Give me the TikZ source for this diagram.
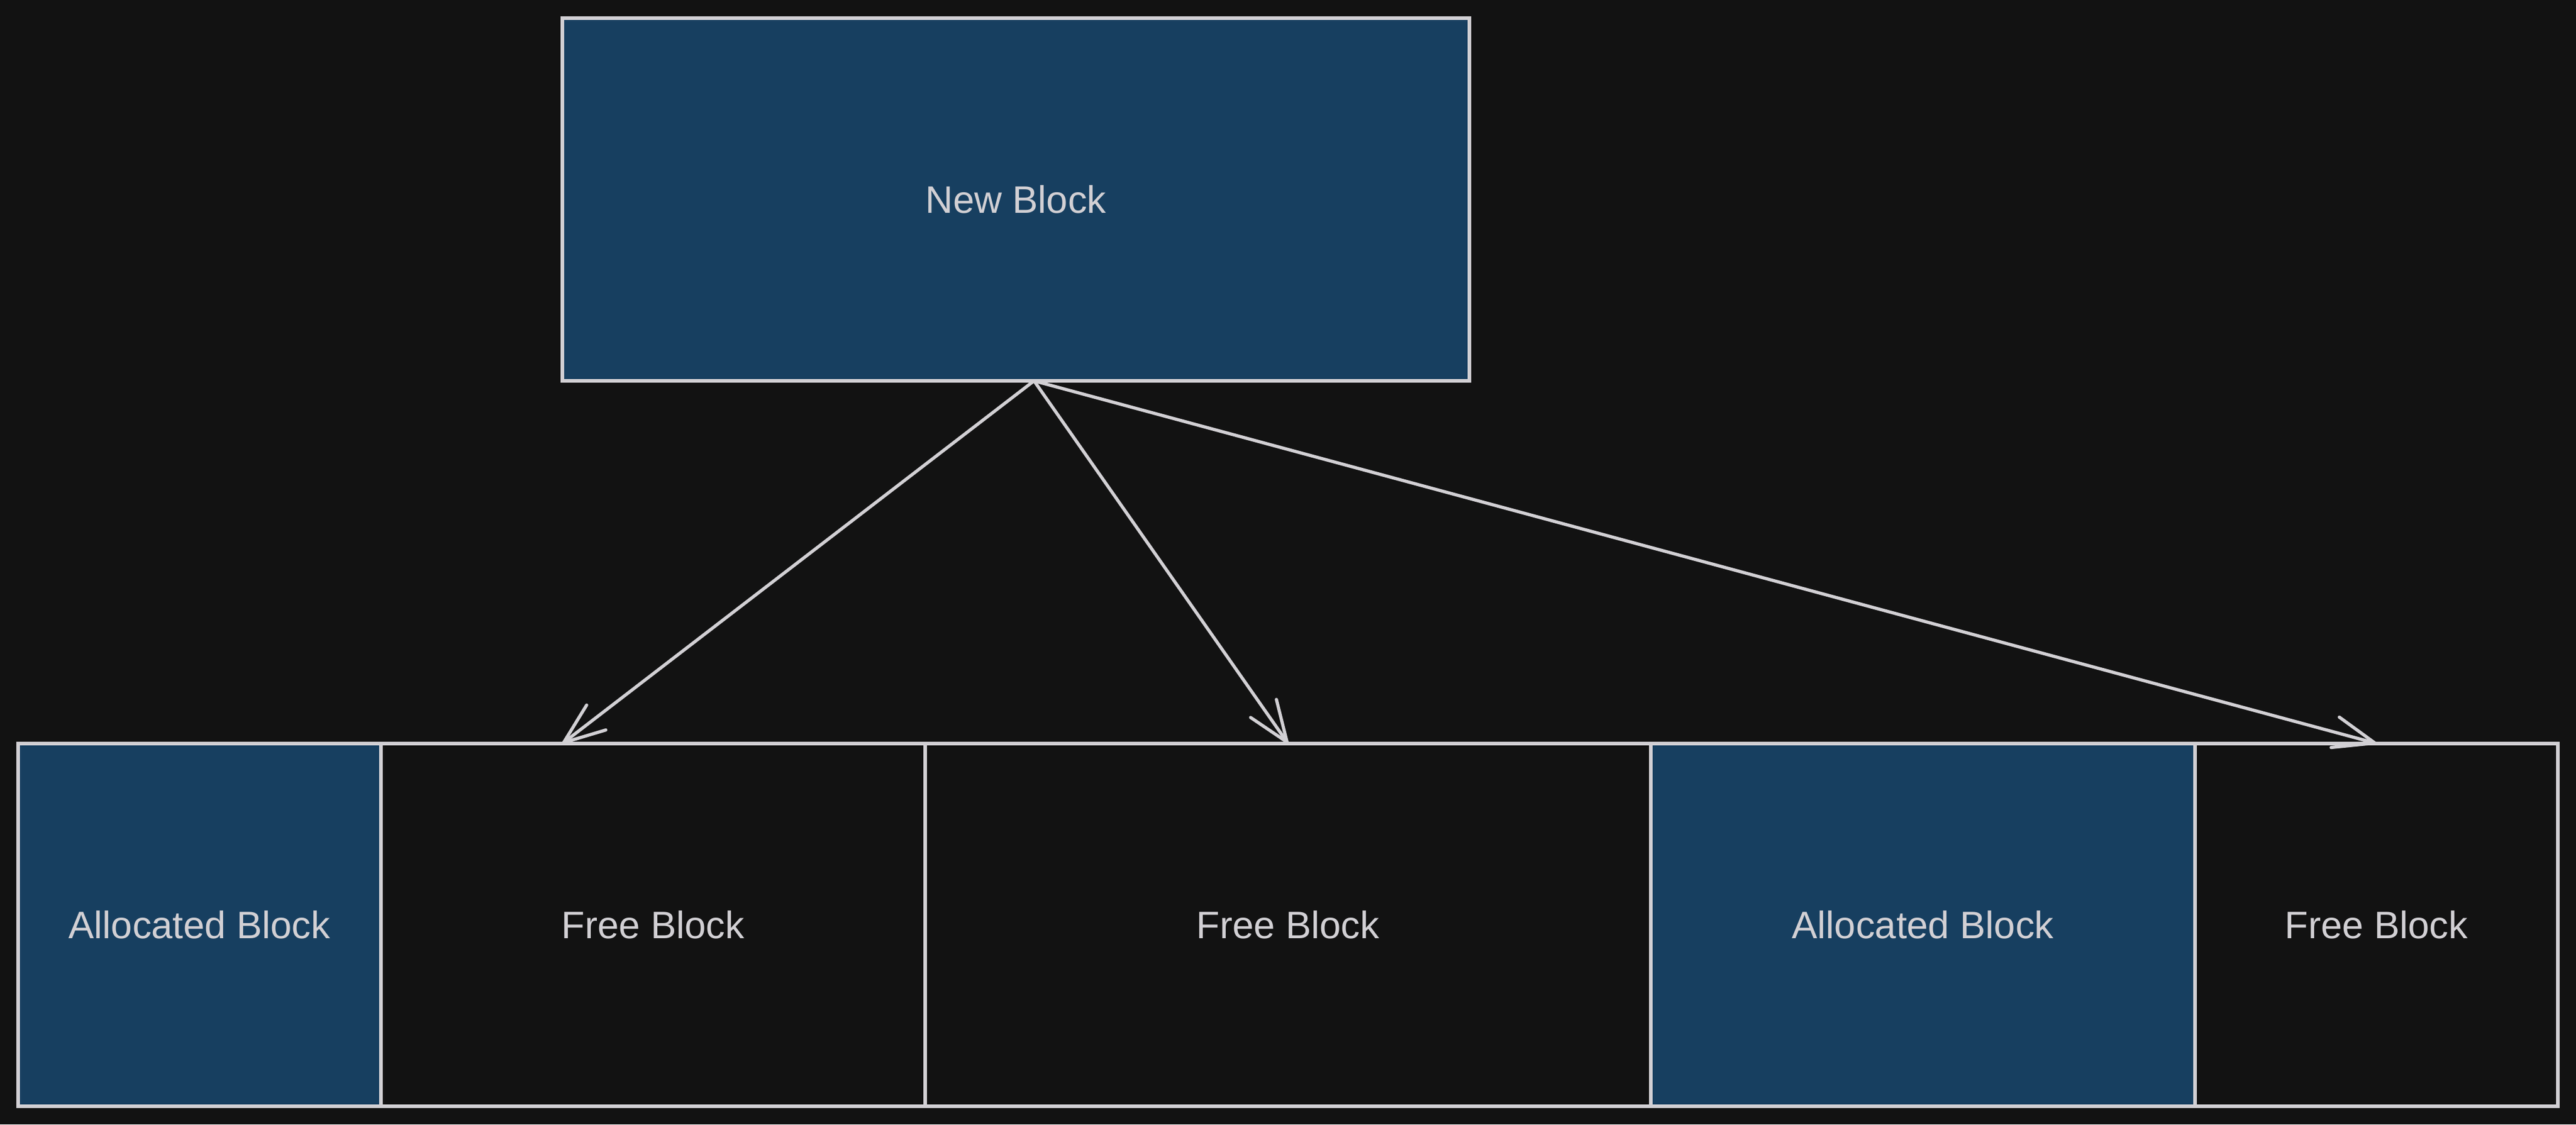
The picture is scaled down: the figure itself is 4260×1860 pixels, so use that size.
\documentclass[tikz,border=0pt]{standalone}
\usepackage{fontspec}
\setmainfont{Liberation Sans}
\usetikzlibrary{arrows.meta}
\definecolor{bgc}{RGB}{18,18,18}
\definecolor{fillc}{RGB}{23,63,96}
\definecolor{linec}{RGB}{210,208,212}
\tikzset{
  blk/.style={draw=linec, line width=1.7pt, text=linec, inner sep=0pt, outer sep=0pt,
    minimum height=6cm, font=\fontsize{18}{22}\selectfont},
  alloc/.style={blk, fill=fillc},
  free/.style={blk, fill=bgc},
  conn/.style={draw=linec, line width=1.5pt, line cap=round,
    -{Straight Barb[length=0.68cm, width=0.52cm, round]}}
}
\begin{document}
\begin{tikzpicture}[x=0.01cm, y=-0.01cm]
\fill[bgc] (0,0) rectangle (4260,1860);
\useasboundingbox (0,0) rectangle (4260,1860);
\node[alloc, minimum width=15cm] (new) at (1680,330) {New Block};
\node[alloc, minimum width=6cm] (a1) at (330,1530) {Allocated Block};
\node[free, minimum width=9cm] (f1) at (1080,1530) {Free Block};
\node[free, minimum width=12cm] (f2) at (2130,1530) {Free Block};
\node[alloc, minimum width=9cm] (a2) at (3180,1530) {Allocated Block};
\node[free, minimum width=6cm] (f3) at (3930,1530) {Free Block};
\coordinate (src) at (1710,630);
\coordinate (t1) at (930,1230);
\coordinate (t2) at (f2.north);
\coordinate (t3) at (f3.north);
\draw[conn] (src) -- (t1);
\draw[conn] (src) -- (t2);
\draw[conn] (src) -- (t3);
\end{tikzpicture}
\end{document}
